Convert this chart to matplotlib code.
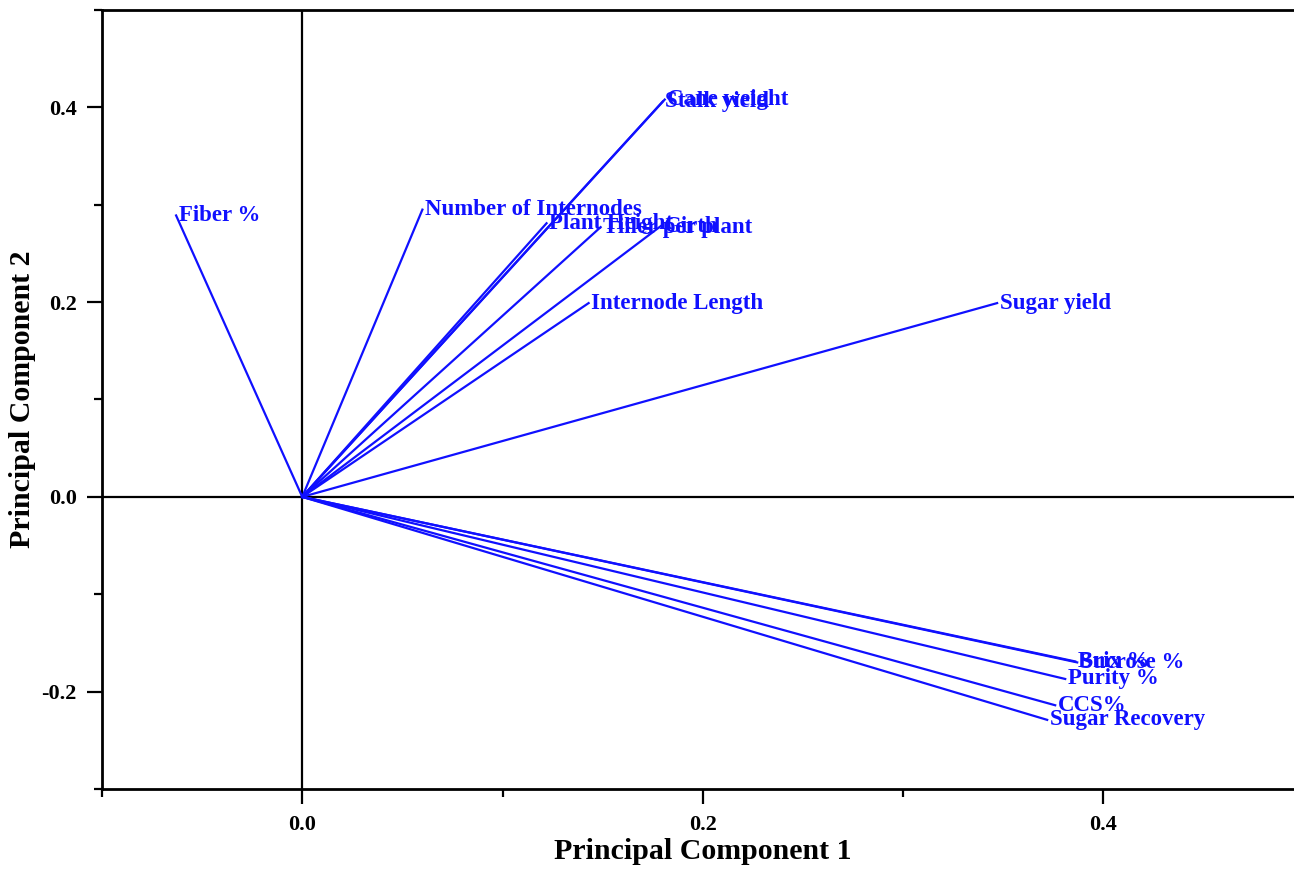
import numpy as np
import matplotlib
matplotlib.use("Agg")
from matplotlib import pyplot as plt
from matplotlib.ticker import MultipleLocator

# PCA loadings
traits = ["Fiber %", "Number of Internodes", "Stalk yield", "Cane weight",
          "Plant Height", "Tiller per plant", "Girth", "Internode Length",
          "Sugar yield", "Brix %", "Sucrose %", "Purity %", "CCS%",
          "Sugar Recovery"]
pc1 = [-0.063, 0.060, 0.180, 0.181, 0.122, 0.149, 0.179, 0.143,
       0.347, 0.386, 0.387, 0.381, 0.376, 0.372]
pc2 = [0.289, 0.295, 0.406, 0.408, 0.281, 0.277, 0.278, 0.199,
       0.199, -0.169, -0.170, -0.187, -0.214, -0.229]

plt.rcParams['font.family'] = ['Liberation Serif', 'DejaVu Serif']
plt.rcParams['font.weight'] = 'bold'

fig = plt.figure(figsize=(12.94, 8.71), dpi=100)
ax = fig.add_axes([102/1294, 82/871, 1201.5/1294, 779/871])

# zero lines
ax.axhline(0, color='black', lw=1.6, zorder=1)
ax.axvline(0, color='black', lw=1.6, zorder=1)

for name, x, y in zip(traits, pc1, pc2):
    ax.plot([0, x], [0, y], color='#1010ff', lw=1.6, zorder=2)
    ax.annotate(name, (x, y), xytext=(2, 0), textcoords='offset points',
                ha='left', va='center', color='#1010ff', fontsize=16.5,
                fontweight='bold')

ax.set_xlim(-0.1, 0.5)
ax.set_ylim(-0.3, 0.5)

ax.xaxis.set_minor_locator(MultipleLocator(0.1))
ax.yaxis.set_minor_locator(MultipleLocator(0.1))
ax.set_xticks([0.0, 0.2, 0.4])
ax.set_yticks([-0.2, 0.0, 0.2, 0.4])
ax.set_xticklabels(["0.0", "0.2", "0.4"])
ax.set_yticklabels(["-0.2", "0.0", "0.2", "0.4"])

ax.tick_params(which='major', length=11, width=1.6, labelsize=16, pad=7)
ax.tick_params(which='minor', length=5.5, width=1.6)
ax.tick_params(axis='x', which='major', pad=8)

for s in ['left', 'bottom', 'top']:
    ax.spines[s].set_linewidth(2)
ax.spines['right'].set_visible(False)

ax.set_xlabel("Principal Component 1", fontsize=21.5, fontweight='bold', labelpad=2)
ax.set_ylabel("Principal Component 2", fontsize=21.5, fontweight='bold', labelpad=4)

fig.savefig("out.png", dpi=100)
